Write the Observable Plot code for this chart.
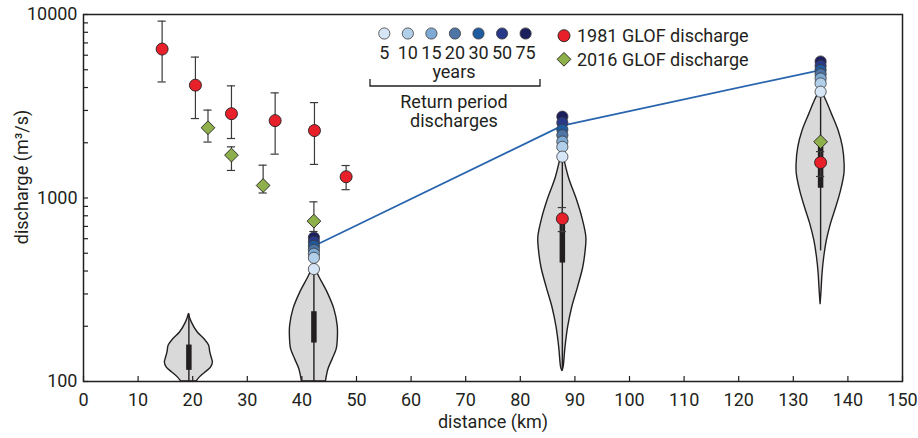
<!DOCTYPE html>
<html>
<head>
<meta charset="utf-8">
<script src="https://cdn.jsdelivr.net/npm/d3@7"></script>
<script src="https://cdn.jsdelivr.net/npm/@observablehq/plot@0.6"></script>
<style>
  html, body { margin: 0; padding: 0; background: #fff; }
  #chart { width: 918px; height: 438px; }
</style>
</head>
<body>
<div id="chart"></div>
<script>
// ---------- data ----------
const distanceTicks = [0, 10, 20, 30, 40, 50, 60, 70, 80, 90, 100, 110, 120, 130, 140, 150];
const dischargeTicks = [100, 1000, 10000];
const minorDischargeTicks = [200, 300, 400, 500, 600, 700, 800, 900, 2000, 3000, 4000, 5000, 6000, 7000, 8000, 9000];

// 1981 GLOF discharge estimates (red circles) with error bars
const glof1981Km = [14.4, 20.5, 27.1, 35.1, 42.3, 48.1, 87.7, 135.0];
const glof1981Q  = [6480, 4120, 2880, 2640, 2330, 1306, 771, 1560];
const glof1981Lo = [4290, 2710, 2110, 1734, 1524, 1110, 656, 1310];
const glof1981Hi = [9200, 5860, 4085, 3740, 3310, 1503, 887, 1790];

// 2016 GLOF discharge estimates (green diamonds) with error bars
const glof2016Km = [22.8, 27.1, 32.9, 42.2, 135.0];
const glof2016Q  = [2415, 1713, 1170, 748, 2025];
const glof2016Lo = [2018, 1413, 1065, 657, null];
const glof2016Hi = [3013, 1900, 1510, 953, null];

// Return period discharges
const returnYears  = [5, 10, 15, 20, 30, 50, 75];
const returnColors = ["#d6e6f6", "#b2cfea", "#7eaad4", "#4f74a6", "#1f5b9f", "#29398a", "#1b1f5e"];
const returnSites  = [42.2, 87.7, 135.0];
const returnQ42  = [410, 472, 497, 522, 548, 577, 609];
const returnQ88  = [1680, 1900, 2030, 2200, 2360, 2570, 2775];
const returnQ135 = [3795, 4210, 4480, 4730, 4980, 5250, 5545];

// connecting line
const lineKm = [42.2, 87.7, 135.0];
const lineQ  = [548, 2480, 4980];

// Violin distributions (discharge, relative density)
const violinSites = [19.3, 42.2, 87.7, 135.0];
const v19Q  = [233, 210, 185, 170, 157, 144, 132, 127, 119, 112, 105, 100];
const v19D  = [0.0, 0.12, 0.37, 0.65, 0.84, 0.89, 0.97, 1.0, 0.92, 0.69, 0.45, 0.32];
const v42Q  = [418, 377, 305, 248, 201, 177, 150, 132, 117, 100];
const v42D  = [0.06, 0.2, 0.57, 0.85, 0.99, 1.0, 0.95, 0.78, 0.61, 0.5];
const v88Q  = [1700, 1294, 966, 783, 609, 515, 418, 325, 253, 197, 153, 119, 114];
const v88D  = [0.05, 0.27, 0.62, 0.83, 1.0, 0.97, 0.87, 0.65, 0.41, 0.24, 0.13, 0.05, 0.0];
const v135Q = [3800, 3390, 2865, 2323, 1885, 1531, 1350, 1094, 887, 721, 585, 474, 385, 312, 264];
const v135D = [0.05, 0.24, 0.47, 0.75, 0.93, 1.0, 0.99, 0.85, 0.65, 0.43, 0.26, 0.15, 0.08, 0.04, 0.0];

// box (interquartile) and whisker extents per violin
const boxLo   = [115, 162, 442, 1130];
const boxHi   = [158, 240, 733, 1900];
const whiskLo = [100, 100, 114, 515];
const whiskHi = [233, 410, 1680, 3800];

// ---------- build tables ----------
const violinHalfWidthKm = 4.4;
const capKm = 0.75;
const profiles = [[v19Q, v19D], [v42Q, v42D], [v88Q, v88D], [v135Q, v135D]];
const violinRows = profiles.flatMap(([qs, ds], i) =>
  qs.map((q, j) => ({site: violinSites[i], q, d: ds[j]})));
const boxRows = violinSites.map((site, i) => ({site, lo: boxLo[i], hi: boxHi[i], wlo: whiskLo[i], whi: whiskHi[i]}));

const rp = [returnQ42, returnQ88, returnQ135];
const rpRows = returnSites.flatMap((site, i) =>
  returnYears.map((year, j) => ({site, year, q: rp[i][j], color: returnColors[j]}))).sort((a, b) => b.year - a.year);

const g81 = glof1981Km.map((km, i) => ({km, q: glof1981Q[i], lo: glof1981Lo[i], hi: glof1981Hi[i]}));
const g16 = glof2016Km.map((km, i) => ({km, q: glof2016Q[i], lo: glof2016Lo[i], hi: glof2016Hi[i]}));
const errRows = [...g81, ...g16].filter(d => d.lo != null);
const capRows = errRows.flatMap(d => [{km: d.km, v: d.lo}, {km: d.km, v: d.hi}]);
const lineRows = lineKm.map((km, i) => ({km, q: lineQ[i]}));

const ink = "#231f20";
const W = 918, H = 438, mL = 83, mR = 16, mT = 14, mB = 57;
const innerW = W - mL - mR, innerH = H - mT - mB;
const rRed = 6, rDiamond = 6.2, rReturn = 5.6;

const chart = Plot.plot({
  width: W, height: H,
  marginLeft: mL, marginRight: mR, marginTop: mT, marginBottom: mB,
  style: {fontFamily: "Roboto, 'Open Sans', sans-serif", fontSize: "18px", color: ink, background: "#fff"},
  x: {domain: [0, 150]},
  y: {type: "log", domain: [100, 10000]},
  color: {type: "identity"},
  marks: [
    // violins
    Plot.areaX(violinRows, {
      y: "q", x1: d => d.site - d.d * violinHalfWidthKm, x2: d => d.site + d.d * violinHalfWidthKm,
      z: "site", fill: "#d9d9d9", stroke: ink, strokeWidth: 1.4, curve: "catmull-rom", clip: true
    }),
    Plot.ruleX(boxRows, {x: "site", y1: "wlo", y2: "whi", stroke: ink, strokeWidth: 1.4, clip: true}),
    Plot.ruleX(boxRows, {x: "site", y1: "lo", y2: "hi", stroke: ink, strokeWidth: 5.5, clip: true}),
    // line of return-period discharges
    Plot.line(lineRows, {x: "km", y: "q", stroke: "#2864ae", strokeWidth: 1.7}),
    Plot.dot(rpRows, {x: "site", y: "q", fill: d => d.color, stroke: "#3a3a3a", strokeWidth: 0.8, r: rReturn}),
    // error bars
    Plot.ruleX(errRows, {x: "km", y1: "lo", y2: "hi", stroke: "#3a3a3a", strokeWidth: 1.2}),
    Plot.ruleY(capRows, {y: "v", x1: d => d.km - capKm, x2: d => d.km + capKm, stroke: "#3a3a3a", strokeWidth: 1.2}),
    // GLOF points
    Plot.dot(g81, {x: "km", y: "q", fill: "#e8202a", stroke: ink, strokeWidth: 0.9, r: rRed}),
    Plot.dot(g16, {x: "km", y: "q", symbol: "diamond2", fill: "#8db04a", stroke: ink, strokeWidth: 0.9, r: rDiamond}),
    // inward ticks
    Plot.tickX(distanceTicks, {x: d => d, insetTop: innerH - 5, stroke: ink, strokeWidth: 1.2}),
    Plot.tickY([...dischargeTicks, ...minorDischargeTicks], {y: d => d, insetRight: innerW - 5, stroke: ink, strokeWidth: 1.2}),
    // axes
    Plot.axisX({ticks: distanceTicks, tickSize: 0, tickPadding: 12, label: null, fontSize: 18, tickFormat: d => String(d)}),
    Plot.axisY({ticks: dischargeTicks, tickSize: 0, tickPadding: 6, label: null, fontSize: 18, tickFormat: d => String(d)}),
    Plot.frame({stroke: ink, strokeWidth: 1.5}),
    Plot.text(["distance (km)"], {frameAnchor: "bottom", dy: 41, lineAnchor: "middle", textAnchor: "middle", text: d => d, fontSize: 18, fill: ink}),
    Plot.text(["discharge (m³/s)"], {frameAnchor: "left", dx: -61, dy: -21, rotate: -90, lineAnchor: "middle", textAnchor: "middle", text: d => d, fontSize: 18, fill: ink})
  ]
});
document.getElementById("chart").appendChild(chart);

// ---------- legend (overlay inside the same SVG) ----------
const svg = d3.select(chart);
const lg = svg.append("g").attr("font-family", "Roboto, 'Open Sans', sans-serif").attr("font-size", 18).attr("fill", ink);
const lx0 = 384.3, lstep = 23.55, ly = 33.5;
returnYears.forEach((yr, i) => {
  const cx = lx0 + i * lstep;
  lg.append("circle").attr("cx", cx).attr("cy", ly).attr("r", rReturn)
    .attr("fill", returnColors[i]).attr("stroke", "#3a3a3a").attr("stroke-width", 0.8);
  lg.append("text").attr("x", cx).attr("y", ly + 19).attr("dy", "0.35em").attr("text-anchor", "middle").text(yr);
});
lg.append("text").attr("x", 454).attr("y", 72).attr("dy", "0.35em").attr("text-anchor", "middle").text("years");
lg.append("path").attr("d", "M370,79V86H540V79").attr("fill", "none").attr("stroke", ink).attr("stroke-width", 1.3);
lg.append("text").attr("x", 454).attr("y", 102).attr("dy", "0.35em").attr("text-anchor", "middle").text("Return period");
lg.append("text").attr("x", 454).attr("y", 121).attr("dy", "0.35em").attr("text-anchor", "middle").text("discharges");
lg.append("circle").attr("cx", 564).attr("cy", 35.7).attr("r", rRed).attr("fill", "#e8202a").attr("stroke", ink).attr("stroke-width", 0.9);
lg.append("text").attr("x", 577).attr("y", 35.7).attr("dy", "0.35em").attr("text-anchor", "start").text("1981 GLOF discharge");
lg.append("path").attr("d", d3.symbol(d3.symbolDiamond2, Math.PI * rDiamond * rDiamond)()).attr("transform", "translate(564,59.3)")
  .attr("fill", "#8db04a").attr("stroke", ink).attr("stroke-width", 0.9);
lg.append("text").attr("x", 577).attr("y", 59.3).attr("dy", "0.35em").attr("text-anchor", "start").text("2016 GLOF discharge");
</script>
</body>
</html>
